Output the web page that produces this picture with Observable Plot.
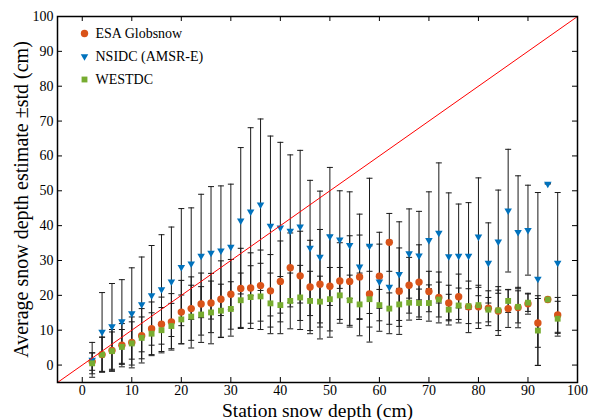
<!DOCTYPE html>
<html>
<head>
<meta charset="utf-8">
<script src="https://cdn.jsdelivr.net/npm/d3@7"></script>
<script src="https://cdn.jsdelivr.net/npm/@observablehq/plot@0.6"></script>
<style>
  html, body { margin: 0; padding: 0; background: #fff; }
  svg text { font-family: 'Liberation Serif', 'Times New Roman', serif; }
</style>
</head>
<body>
<div id="chart"></div>
<script>
// ---- data ----
const stationDepth = [2,4,6,8,10,12,14,16,18,20,22,24,26,28,30,32,34,36,38,40,42,44,46,48,50,52,54,56,58,60,62,64,66,68,70,72,74,76,78,80,82,84,86,88,90,92,94,96];

const esaMean = [1.0,3.0,4.2,5.7,6.5,8.4,10.4,11.7,12.4,15.2,16.2,17.5,17.8,18.9,20.3,22.0,22.1,22.8,21.3,24.0,27.9,25.6,22.4,23.2,22.6,24.1,24.0,25.3,20.4,25.5,35.2,21.2,22.9,23.8,21.1,19.4,17.8,19.6,16.7,16.7,16.3,15.5,16.2,16.5,17.6,12.1,18.8,14.4];
const esaStd  = [2.5,5.0,6.0,6.2,7.3,7.8,7.7,7.8,8.1,9.1,9.1,8.9,8.5,11.0,10.0,11.5,10.1,10.2,10.4,11.6,10.0,12.8,13.4,15.7,14.6,11.0,13.1,12.0,13.8,9.2,8.3,12.4,8.0,10.7,5.8,7.3,5.1,6.5,7.4,6.2,5.0,7.0,5.4,5.8,3.0,7.0,0,5.0];

const nsidcMean = [1.5,9.5,11.1,12.5,14.8,17.4,20.0,21.7,23.9,28.1,29.1,31.3,32.2,32.8,33.9,41.4,44.0,46.0,39.9,39.4,38.5,39.7,33.6,31.0,36.9,36.0,34.4,28.2,34.2,23.9,22.4,26.1,32.0,31.4,35.8,37.9,31.2,31.3,31.3,36.8,29.3,35.4,44.3,38.1,38.7,24.7,52.0,29.3];
const nsidcStd  = [5.0,11.3,12.3,12.0,13.1,13.6,14.3,15.7,15.7,16.8,16.0,17.7,19.0,18.6,18.0,21.0,24.1,24.6,25.8,24.5,21.8,21.9,19.4,18.9,19.8,14.0,15.3,15.1,19.4,14.2,13.4,15.0,12.8,12.7,13.9,20.1,18.2,14.9,15.3,16.9,11.5,14.8,17.6,16.2,12.9,24.8,0,20.2];

const westMean = [0.5,3.0,4.0,5.2,6.2,7.8,9.0,10.0,11.2,13.1,13.9,14.5,15.1,15.6,16.1,18.6,19.5,19.7,17.7,17.2,18.4,19.4,18.4,18.2,18.9,20.0,18.6,17.4,18.9,17.2,16.2,17.4,17.9,17.8,17.8,18.8,15.9,17.1,16.9,17.2,15.9,15.7,18.4,16.7,17.9,9.9,18.8,13.3];
const westStd  = [3.0,5.0,5.5,5.0,6.2,6.0,6.0,6.5,6.5,7.0,9.0,8.0,9.0,7.6,7.8,7.8,9.0,9.5,8.7,8.2,8.0,9.2,8.5,7.3,9.1,8.0,7.2,9.0,8.0,4.5,4.5,4.6,5.0,4.0,5.2,5.0,4.4,5.0,5.0,5.1,3.5,5.8,3.3,4.6,2.5,10.0,0,5.0];

const seriesNames = ["ESA Globsnow", "NSIDC (AMSR-E)", "WESTDC"];
const xTicks = [0,10,20,30,40,50,60,70,80,90,100];
const yTicks = [0,10,20,30,40,50,60,70,80,90,100];
const axisDomain = [-5, 100];
const xLabel = "Station snow depth (cm)";
const yLabel = "Average snow depth estimate \u00b1std (cm)";

// ---- build table ----
const seriesData = [
  {name: seriesNames[0], mean: esaMean,   std: esaStd},
  {name: seriesNames[1], mean: nsidcMean, std: nsidcStd},
  {name: seriesNames[2], mean: westMean,  std: westStd}
];
const styles = {
  [seriesNames[0]]: {fill: "#D95319", symbol: "circle",   r: 3.7, rotate: 0},
  [seriesNames[1]]: {fill: "#0072BD", symbol: "triangle", r: 2.8, rotate: 180},
  [seriesNames[2]]: {fill: "#77AC30", symbol: "square",   r: 3.3, rotate: 0}
};
const rows = seriesData.map(s => stationDepth.map((x, i) => ({
  series: s.name, x, mean: s.mean[i], std: s.std[i]
})));

const capSymbol = {
  draw(ctx) { ctx.moveTo(-3, 0); ctx.lineTo(3, 0); }
};

const W = 590, H = 420;
const mL = 57, mR = 13, mT = 16, mB = 38;
const plotH = H - mT - mB, plotW = W - mL - mR;
const tickLen = 5;
const font = "'Liberation Serif', 'Times New Roman', serif";

const marks = [];

// error bars (per series) then markers
rows.forEach(rs => {
  marks.push(Plot.ruleX(rs, {x: "x", y1: d => d.mean - d.std, y2: d => d.mean + d.std, stroke: "#1a1a1a", strokeWidth: 1}));
  marks.push(Plot.dot(rs, {x: "x", y: d => d.mean + d.std, symbol: capSymbol, stroke: "#1a1a1a", fill: "none", strokeWidth: 1}));
  marks.push(Plot.dot(rs, {x: "x", y: d => d.mean - d.std, symbol: capSymbol, stroke: "#1a1a1a", fill: "none", strokeWidth: 1}));
});
rows.forEach(rs => {
  const st = styles[rs[0].series];
  marks.push(Plot.dot(rs, {x: "x", y: "mean", symbol: st.symbol, r: st.r, fill: st.fill, stroke: "none", rotate: st.rotate}));
});

// 1:1 line
marks.push(Plot.line(axisDomain.map(v => ({x: v, y: v})), {x: "x", y: "y", stroke: "#ff0000", strokeWidth: 1}));

// frame and inward ticks on all sides
marks.push(Plot.frame({stroke: "#000", strokeWidth: 1.5}));
marks.push(Plot.ruleX(xTicks, {x: d => d, insetTop: plotH - tickLen, stroke: "#000", strokeWidth: 1}));
marks.push(Plot.ruleX(xTicks, {x: d => d, insetBottom: plotH - tickLen, stroke: "#000", strokeWidth: 1}));
marks.push(Plot.ruleY(yTicks, {y: d => d, insetRight: plotW - tickLen, stroke: "#000", strokeWidth: 1}));
marks.push(Plot.ruleY(yTicks, {y: d => d, insetLeft: plotW - tickLen, stroke: "#000", strokeWidth: 1}));

// tick labels
marks.push(Plot.axisX(xTicks, {anchor: "bottom", label: null, tickSize: 0, tickPadding: 3, fontSize: 14, fontFamily: font, fill: "#000"}));
marks.push(Plot.axisY(yTicks, {anchor: "left", label: null, tickSize: 0, tickPadding: 4, fontSize: 14, fontFamily: font, fill: "#000"}));

// axis titles
marks.push(Plot.text([xLabel], {frameAnchor: "bottom", dy: 34, textAnchor: "middle", lineAnchor: "bottom", fontSize: 19.5, fontFamily: font, fill: "#000"}));
marks.push(Plot.text([yLabel], {frameAnchor: "left", dx: -30, rotate: -90, textAnchor: "middle", lineAnchor: "bottom", fontSize: 20, fontFamily: font, fill: "#000"}));

// legend
seriesNames.forEach((name, i) => {
  const st = styles[name];
  const dy = 17 + 23 * i;
  marks.push(Plot.dot([name], {x: null, y: null, frameAnchor: "top-left", dx: 27, dy, symbol: st.symbol, r: st.r, fill: st.fill, rotate: st.rotate}));
  marks.push(Plot.text([name], {frameAnchor: "top-left", dx: 38, dy, textAnchor: "start", lineAnchor: "middle", fontSize: 14, fontFamily: font, fill: "#000"}));
});

const chart = Plot.plot({
  width: W, height: H,
  marginLeft: mL, marginRight: mR, marginTop: mT, marginBottom: mB,
  x: {domain: axisDomain, axis: null},
  y: {domain: axisDomain, axis: null},
  style: {fontFamily: font, fontSize: "14px", background: "#fff", color: "#000", overflow: "visible"},
  marks
});
document.getElementById("chart").appendChild(chart);
</script>
</body>
</html>
